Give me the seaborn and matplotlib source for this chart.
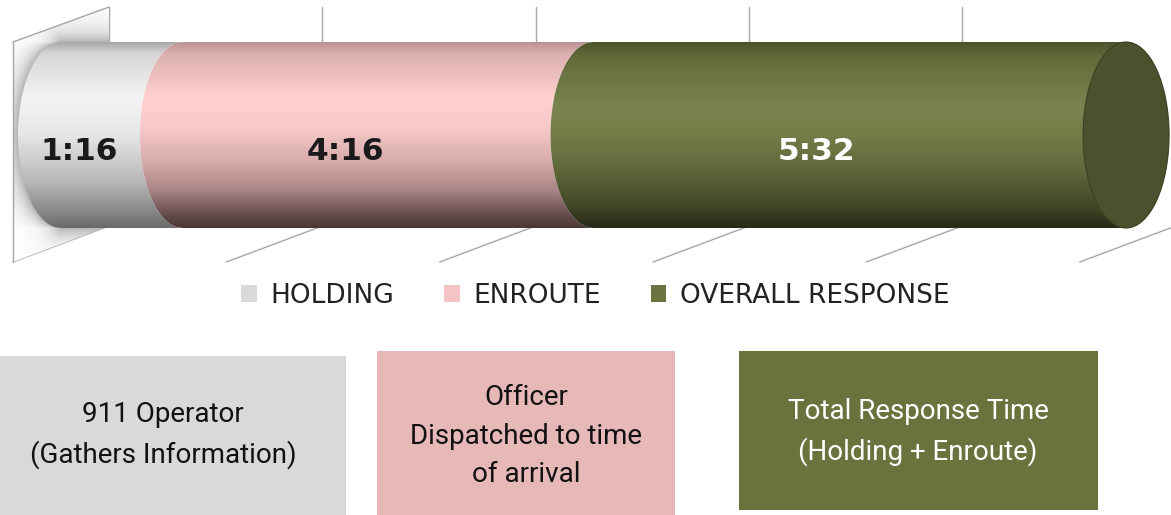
import numpy as np
import pandas as pd
import matplotlib
matplotlib.use("Agg")
import matplotlib.pyplot as plt
import seaborn as sns
from matplotlib.path import Path
from matplotlib.patches import PathPatch, Ellipse, Rectangle, Patch
from matplotlib.colors import LinearSegmentedColormap

# ---------------- data ----------------
categories = ["HOLDING", "ENROUTE", "OVERALL RESPONSE"]
seconds = [76, 256, 332]            # 1:16, 4:16, 5:32
value_labels = ["1:16", "4:16", "5:32"]
legend_colors = ["#d9d9d9", "#f4c4c4", "#6b7340"]
label_colors = ["#1a1a1a", "#1a1a1a", "#ffffff"]
grid_step = 133                      # seconds between gridlines
grid_max = 665

box_texts = ["911 Operator\n(Gathers Information)",
             "Officer\nDispatched to time\nof arrival",
             "Total Response Time\n(Holding + Enroute)"]
box_colors = ["#d9d9d9", "#e6b8b7", "#6b723d"]
box_text_colors = ["#111111", "#111111", "#ffffff"]

# gradient stops for the cylinder segments (top -> bottom)
grad_stops = [
    [(0.0, "#a8a8a8"), (0.06, "#d6d6d6"), (0.3, "#f4f4f4"), (0.5, "#e6e6e6"),
     (0.75, "#b8b8b8"), (0.9, "#8c8c8c"), (1.0, "#6a6a6a")],
    [(0.0, "#b89292"), (0.06, "#dcb0b0"), (0.3, "#ffd0d0"), (0.47, "#f6c8c8"),
     (0.65, "#d6aaaa"), (0.8, "#a88484"), (0.93, "#654c4c"), (1.0, "#4a3636")],
    [(0.0, "#4c532c"), (0.08, "#636b3b"), (0.35, "#7a8450"), (0.5, "#737d48"),
     (0.7, "#5e6639"), (0.88, "#424828"), (1.0, "#262a16")],
]
face_color = "#4a512c"

sns.set_theme(style="white")
plt.rcParams["font.family"] = ["DejaVu Sans"]

W, H = 1171, 515
fig = plt.figure(figsize=(W / 100, H / 100), dpi=100)
fig.patch.set_facecolor("white")

# ---------- lower annotation layer (pixel coords) ----------
axb = fig.add_axes([0, 0, 1, 1], zorder=0)
axb.set_xlim(0, W)
axb.set_ylim(H, 0)
axb.axis("off")

# ---------- chart axes ----------
top_h = 270
ax = fig.add_axes([0, 1 - top_h / H, 1, top_h / H], zorder=1)
ax.patch.set_alpha(0)

starts = list(np.cumsum([0] + seconds[:-1]))
for cat, s, d, c in zip(categories, starts, seconds, legend_colors):
    sns.barplot(x=[d], y=[""], left=s, color=c, orient="h", width=0.8,
                errorbar=None, ax=ax)

px_per_s = 1.604
px_origin = 61
py_per_u = 232.5
py_center = 135
ax.set_xlim((0 - px_origin) / px_per_s, (W - px_origin) / px_per_s)
ax.set_ylim((top_h - py_center) / py_per_u, (0 - py_center) / py_per_u)
ax.axis("off")

def py2y(py):
    return (py - py_center) / py_per_u

a = 43 / px_per_s          # ellipse half width (seconds)
dx = 48 / px_per_s         # depth offset (seconds)
grid_col = "#a6a6a6"

# ---------- gridlines / floor / wall ----------
ticks = np.arange(0, grid_max + 1, grid_step)
y_back_top = py2y(7)
y_floor_back = py2y(226)
y_floor_front = py2y(262)
y_wall_front_top = py2y(42)
for g in ticks:
    ax.plot([g + dx, g + dx], [y_back_top, y_floor_back], color=grid_col, lw=1.0, zorder=1)
    ax.plot([g - dx, g + dx], [y_floor_front, y_floor_back], color=grid_col, lw=1.0, zorder=1)

# left wall
g0 = ticks[0]
wall_pts = [(g0 - dx, y_wall_front_top), (g0 + dx, y_back_top),
            (g0 + dx, y_floor_back), (g0 - dx, y_floor_front)]
wall_patch = PathPatch(Path(wall_pts + [wall_pts[0]], closed=True),
                       facecolor="none", edgecolor="none", transform=ax.transData)
ax.add_patch(wall_patch)
pxs = np.linspace(px_origin - 48, px_origin + 48, 120)
pys = np.linspace(7, 262, 260)
PX, PY = np.meshgrid(pxs, pys)
inside = np.clip(1 - ((PY - py_center) / 93.0) ** 2, 0, 1)
xarc = px_origin - 43 * np.sqrt(inside)
d_mid = np.maximum(xarc - PX, 0)
d_top = np.hypot(np.maximum(px_origin - PX, 0), 42 - PY)
d_bot = np.hypot(np.maximum(px_origin - PX, 0), PY - 228)
dist = np.where(PY < 42, d_top, np.where(PY > 228, d_bot, d_mid))
shade = 1 - 0.30 * np.exp(-dist / 12.0)
wimg = np.dstack([shade, shade, shade])
im = ax.imshow(wimg, extent=[g0 - dx, g0 + dx, y_floor_front, y_back_top],
               aspect="auto", origin="upper", interpolation="bilinear", zorder=1.5)
im.set_clip_path(wall_patch)
ax.plot([g0 - dx, g0 - dx], [y_wall_front_top, y_floor_front], color=grid_col, lw=1.0, zorder=2)
ax.plot([g0 - dx, g0 + dx], [y_wall_front_top, y_back_top], color=grid_col, lw=1.0, zorder=2)

# ---------- cylinder segments from the seaborn bars ----------
bars = list(ax.patches)[:3]
n = len(bars)
for i, p in enumerate(bars):
    p.set_visible(False)
    s = p.get_x()
    e = s + p.get_width()
    y0 = p.get_y()
    h = p.get_height()
    yc = y0 + h / 2
    r = h / 2
    ys = np.linspace(-r, r, 200)
    k = np.sqrt(np.clip(1 - (ys / r) ** 2, 0, 1))
    left = np.column_stack([s - a * k, yc + ys])
    if i == n - 1:
        right = np.column_stack([e + a * k, yc + ys])[::-1]
    else:
        right = np.column_stack([e - a * k, yc + ys])[::-1]
    verts = np.vstack([left, right, left[:1]])
    clip = PathPatch(Path(verts, closed=True), facecolor="none", edgecolor="none",
                     transform=ax.transData)
    ax.add_patch(clip)
    cmap = LinearSegmentedColormap.from_list("g%d" % i, grad_stops[i])
    img = cmap(np.linspace(0, 1, 256))[:, None, :]
    gi = ax.imshow(img, extent=[s - a - 1, e + a + 1, yc + r, yc - r], aspect="auto",
                   origin="upper", interpolation="bilinear", zorder=3 + i * 0.1)
    gi.set_clip_path(clip)
    if i == n - 1:
        ax.add_patch(Ellipse((e, yc), 2 * a, 2 * r, facecolor=face_color,
                             edgecolor="#3c4224", lw=0.8, zorder=4))
    ax.text((s + e) / 2 - a, yc + 16 / py_per_u, value_labels[i], ha="center", va="center",
            fontsize=22.5, fontweight="bold", color=label_colors[i], zorder=6,
            family=["DejaVu Sans"])

ax.set_xlim((0 - px_origin) / px_per_s, (W - px_origin) / px_per_s)
ax.set_ylim((top_h - py_center) / py_per_u, (0 - py_center) / py_per_u)

# ---------- legend ----------
handles = [Patch(facecolor=c, edgecolor="none") for c in legend_colors]
leg = fig.legend(handles, categories, loc="center", ncol=3,
                 bbox_to_anchor=(595 / W, 1 - 296 / H), frameon=False,
                 handlelength=0.6, handleheight=0.6, handletextpad=0.5,
                 columnspacing=1.9, fontsize=19,
                 prop={"family": ["DejaVu Sans"], "size": 19})
for t in leg.get_texts():
    t.set_color("#222222")

# ---------- explanatory boxes ----------
box_geom = [(0, 356, 346, 159), (377, 351, 298, 164), (739, 351, 359, 159)]
text_pos = [(163, 435), (526, 436), (918, 432)]
for (bx, by, bw, bh), c, txt, tc, (tx, ty) in zip(box_geom, box_colors, box_texts,
                                                  box_text_colors, text_pos):
    axb.add_patch(Rectangle((bx, by), bw, bh, facecolor=c, edgecolor="none"))
    axb.text(tx, ty, txt, ha="center", va="center", multialignment="center",
             fontsize=20, color=tc, family=["Roboto", "DejaVu Sans"], linespacing=1.55)

fig.savefig("out.png", dpi=100, facecolor="white")
